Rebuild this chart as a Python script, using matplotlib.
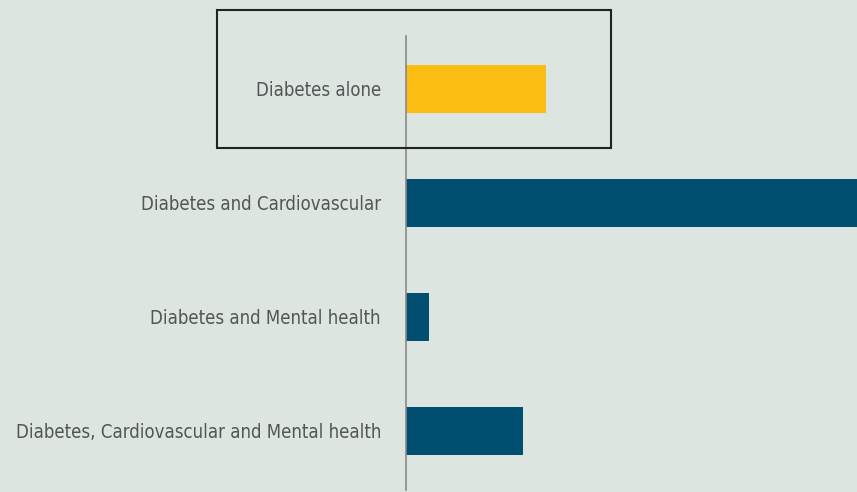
import matplotlib
matplotlib.use("Agg")
import matplotlib.pyplot as plt
from matplotlib.patches import Rectangle

categories = ["Diabetes alone", "Diabetes and Cardiovascular",
              "Diabetes and Mental health",
              "Diabetes, Cardiovascular and Mental health"]
values = [31, 100, 5, 26]
colors = ["#fcbd12", "#004f71", "#004f71", "#004f71"]

W, H = 857, 492
bg = "#dce5e0"
FONT = dict(family=["DejaVu Sans"], fontstretch="condensed")

fig = plt.figure(figsize=(W / 100, H / 100), dpi=100, facecolor=bg)
ax = fig.add_axes([406 / W, (H - 490) / H, (857 - 406) / W, (490 - 36) / H])
ax.set_facecolor(bg)

ypos = list(range(len(categories)))
ax.barh(ypos, values, height=48 / 114, color=colors, zorder=2)
ax.set_ylim(3 + 59 / 114, -53 / 114)
ax.set_xlim(0, 100)
ax.set_yticks(ypos)
ax.set_yticklabels(categories, fontsize=16, color="#555555", **FONT)
ax.tick_params(axis="y", length=0, pad=18)
ax.set_xticks([])

# fit label font size so the longest label spans ~368 px
fig.canvas.draw()
r = fig.canvas.get_renderer()
wmax = max(t.get_window_extent(r).width for t in ax.get_yticklabels())
fs = 16 * 368 / wmax
for t in ax.get_yticklabels():
    t.set_fontsize(fs)

for s in ["top", "right", "bottom"]:
    ax.spines[s].set_visible(False)
ax.spines["left"].set_color("#888888")
ax.spines["left"].set_linewidth(1.2)
ax.spines["left"].set_zorder(3)

fig.patches.append(Rectangle((217 / W, (H - 148) / H), (611 - 217) / W, (148 - 10) / H,
                             transform=fig.transFigure, fill=False,
                             edgecolor="#222222", linewidth=1.5))

fig.savefig("out.png", dpi=100, facecolor=bg)
